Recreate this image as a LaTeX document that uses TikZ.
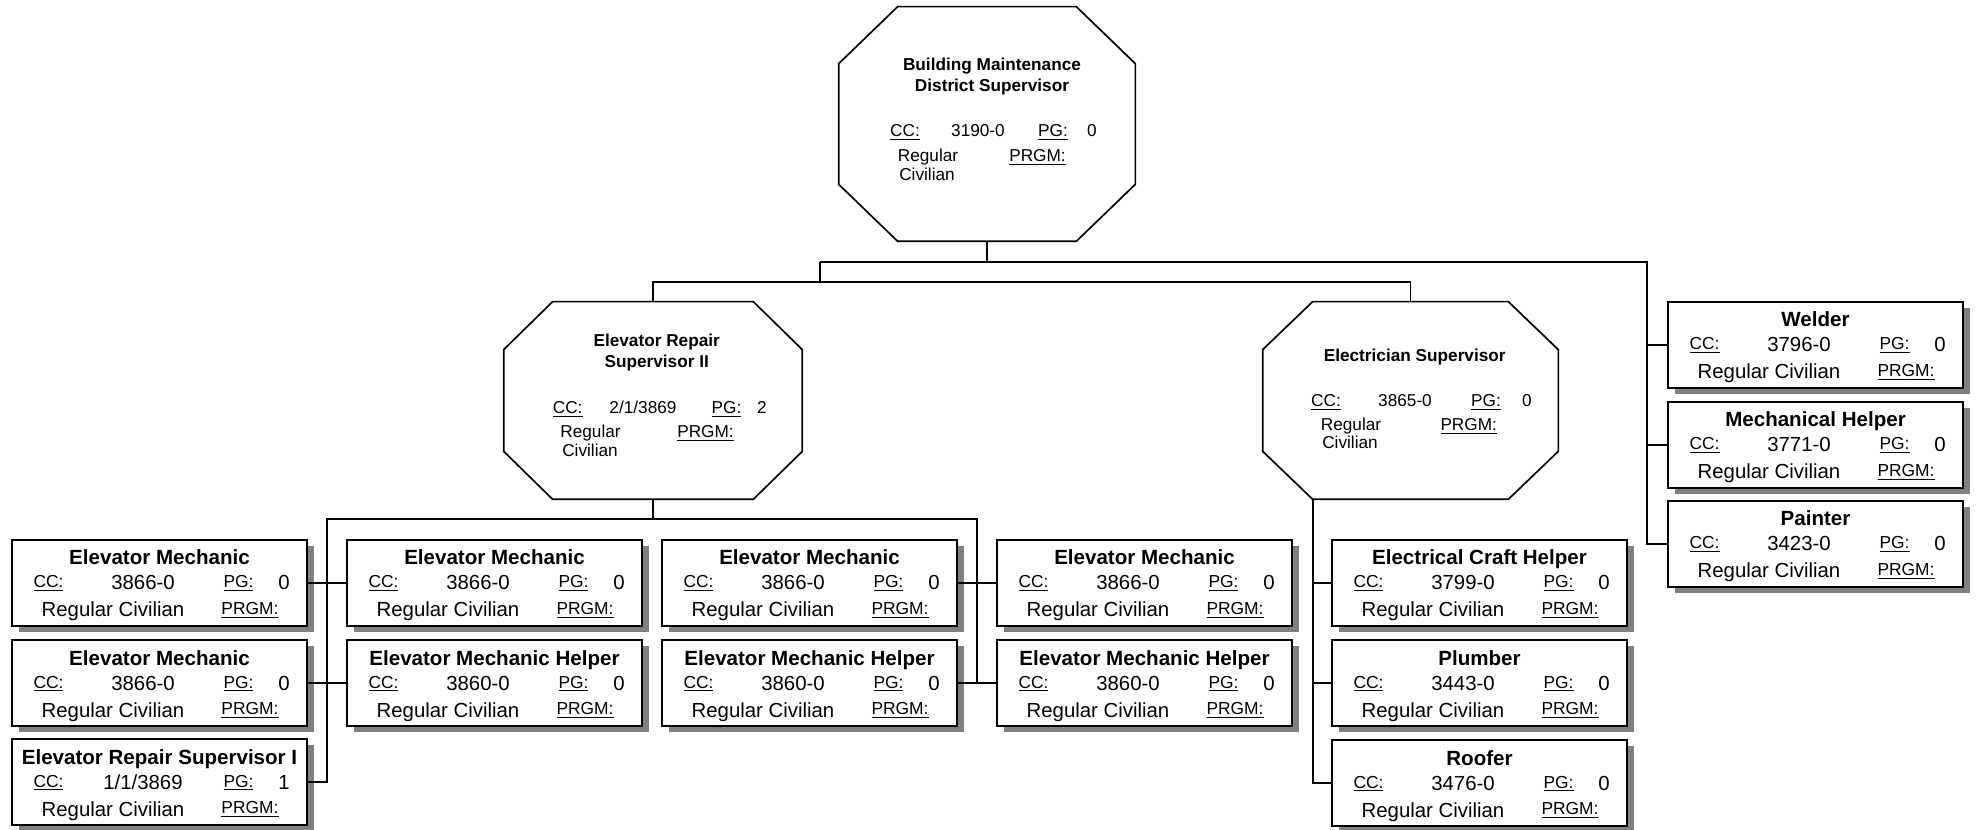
\documentclass[tikz,border=0pt]{standalone}
\usepackage{fontspec}
\setmainfont{Liberation Sans}
\usetikzlibrary{calc}
\definecolor{shadowgray}{HTML}{808080}

% one position box: name, left x, top y, title, CC value, PG value
\newcommand\jobbox[6]{%
  \begin{scope}[shift={(#2,#3)}]
    \fill[jobshadow] (7,6) rectangle (302,92);
    \node[jobframe] (#1) at (147.5,43) {};
    \node[jtitle] (#1-t) at (147.5,25) {#4};
    \node[jlab] (#1-ccl) at (36.5,48) {\underline{CC:}};
    \node[jval] (#1-cc) at (131,50) {#5};
    \node[jlab] (#1-pgl) at (226.5,48) {\underline{PG:}};
    \node[jval] (#1-pg) at (272,50) {#6};
    \node[jval] (#1-rc) at (101,77) {Regular Civilian};
    \node[jlab] (#1-prgm) at (238,74.5) {\underline{PRGM:}};
  \end{scope}}

% chamfered outline around a named frame node: name, x cut, y cut
\newcommand\octoutline[3]{%
  \draw[octline] ($(#1.north west)+(#2,0)$) -- ($(#1.north east)+(-#2,0)$)
    -- ($(#1.north east)+(0,#3)$) -- ($(#1.south east)+(0,-#3)$)
    -- ($(#1.south east)+(-#2,0)$) -- ($(#1.south west)+(#2,0)$)
    -- ($(#1.south west)+(0,-#3)$) -- ($(#1.north west)+(0,#3)$) -- cycle;}

\begin{document}
\begin{tikzpicture}[x=0.02cm,y=-0.02cm,
  conn/.style={line width=0.95pt, line join=miter},
  octline/.style={line width=0.95pt, line join=miter},
  jobframe/.style={draw, line width=1.2pt, fill=white, minimum width=5.9cm,
    minimum height=1.72cm, inner sep=0pt},
  jobshadow/.style={fill=shadowgray, draw=none},
  octframe/.style={draw=none, inner sep=0pt},
  jtitle/.style={font=\fontsize{11.7}{13}\selectfont\bfseries, anchor=base, inner sep=0pt},
  jval/.style={font=\fontsize{11.6}{13}\selectfont, anchor=base, inner sep=0pt},
  jlab/.style={font=\fontsize{9.9}{11}\selectfont, anchor=base, inner sep=0pt},
  otext/.style={font=\fontsize{9.8}{11}\selectfont, anchor=base, inner sep=0pt},
  otitle/.style={font=\fontsize{9.8}{11}\selectfont\bfseries, anchor=base, inner sep=0pt},
]
\fill[white] (0,0) rectangle (1977,830);
\useasboundingbox (0,0) rectangle (1977,830);

% ---- top supervisor
\node[octframe, minimum width=5.92cm, minimum height=4.68cm] (top) at (987,124) {};
\octoutline{top}{59}{57}
\node[otitle] (top-t1) at (992,71) {Building Maintenance};
\node[otitle] (top-t2) at (992,92) {District Supervisor};
\node[otext] (top-ccl) at (905,137) {\underline{CC:}};
\node[otext] (top-cc) at (978,137) {3190-0};
\node[otext] (top-pgl) at (1053,137) {\underline{PG:}};
\node[otext] (top-pg) at (1092,137) {0};
\node[otext] (top-r1) at (928,162) {Regular};
\node[otext] (top-r2) at (927,181) {Civilian};
\node[otext] (top-prgm) at (1037.5,162) {\underline{PRGM:}};

% ---- elevator repair supervisor II
\node[octframe, minimum width=5.96cm, minimum height=3.94cm] (sup2) at (653,400.5) {};
\octoutline{sup2}{49}{48}
\node[otitle] (sup2-t1) at (656.7,347) {Elevator Repair};
\node[otitle] (sup2-t2) at (656.7,368) {Supervisor II};
\node[otext] (sup2-ccl) at (567.7,414) {\underline{CC:}};
\node[otext] (sup2-cc) at (643,414) {2/1/3869};
\node[otext] (sup2-pgl) at (726.5,414) {\underline{PG:}};
\node[otext] (sup2-pg) at (762,414) {2};
\node[otext] (sup2-r1) at (590.5,437.5) {Regular};
\node[otext] (sup2-r2) at (590,457) {Civilian};
\node[otext] (sup2-prgm) at (705.5,437.5) {\underline{PRGM:}};

% ---- electrician supervisor
\node[octframe, minimum width=5.9cm, minimum height=3.94cm] (elec) at (1410.5,400.5) {};
\octoutline{elec}{50}{48}
\node[otitle] (elec-t) at (1414.7,362) {Electrician Supervisor};
\node[otext] (elec-ccl) at (1326,407) {\underline{CC:}};
\node[otext] (elec-cc) at (1405,407) {3865-0};
\node[otext] (elec-pgl) at (1486,407) {\underline{PG:}};
\node[otext] (elec-pg) at (1527,407) {0};
\node[otext] (elec-r1) at (1351,431) {Regular};
\node[otext] (elec-r2) at (1350,449) {Civilian};
\node[otext] (elec-prgm) at (1468.7,431) {\underline{PRGM:}};

% ---- position boxes
\jobbox{a1}{12}{540}{Elevator Mechanic}{3866-0}{0}
\jobbox{a2}{12}{640}{Elevator Mechanic}{3866-0}{0}
\jobbox{a3}{12}{739}{Elevator Repair Supervisor I}{1/1/3869}{1}
\jobbox{b1}{347}{540}{Elevator Mechanic}{3866-0}{0}
\jobbox{b2}{347}{640}{Elevator Mechanic Helper}{3860-0}{0}
\jobbox{c1}{662}{540}{Elevator Mechanic}{3866-0}{0}
\jobbox{c2}{662}{640}{Elevator Mechanic Helper}{3860-0}{0}
\jobbox{d1}{997}{540}{Elevator Mechanic}{3866-0}{0}
\jobbox{d2}{997}{640}{Elevator Mechanic Helper}{3860-0}{0}
\jobbox{e1}{1332}{540}{Electrical Craft Helper}{3799-0}{0}
\jobbox{e2}{1332}{640}{Plumber}{3443-0}{0}
\jobbox{e3}{1332}{740}{Roofer}{3476-0}{0}
\jobbox{f1}{1668}{302}{Welder}{3796-0}{0}
\jobbox{f2}{1668}{402}{Mechanical Helper}{3771-0}{0}
\jobbox{f3}{1668}{501}{Painter}{3423-0}{0}

% ---- connectors from the top supervisor
\coordinate (busA) at (820,262);
\coordinate (busR) at (1647,262);
\coordinate (busB) at (820,282);
\draw[conn] (top.south) -- (top.south |- busA);
\draw[conn] (busA) -- (busR) -- (busR |- f3.west) -- (f3.west);
\draw[conn] (busR |- f1.west) -- (f1.west);
\draw[conn] (busR |- f2.west) -- (f2.west);
\draw[conn] (busA) -- (busB);
\draw[conn] (sup2.north) -- (sup2.north |- busB) -- (elec.north |- busB) -- (elec.north);

% ---- connectors under elevator repair supervisor II
\coordinate (busL) at (327,519);
\coordinate (busM) at (977,519);
\draw[conn] (sup2.south) -- (sup2.south |- busL);
\draw[conn] (a3.east) -- (busL |- a3.east) -- (busL) -- (busM) -- (busM |- c2.east);
\draw[conn] (a1.east) -- (b1.west);
\draw[conn] (a2.east) -- (b2.west);
\draw[conn] (c1.east) -- (d1.west);
\draw[conn] (c2.east) -- (d2.west);

% ---- connectors under electrician supervisor
\coordinate (ebl) at ($(elec.south west)+(50,0)$);
\draw[conn] (ebl) -- (ebl |- e3.west) -- (e3.west);
\draw[conn] (ebl |- e1.west) -- (e1.west);
\draw[conn] (ebl |- e2.west) -- (e2.west);
\end{tikzpicture}
\end{document}
